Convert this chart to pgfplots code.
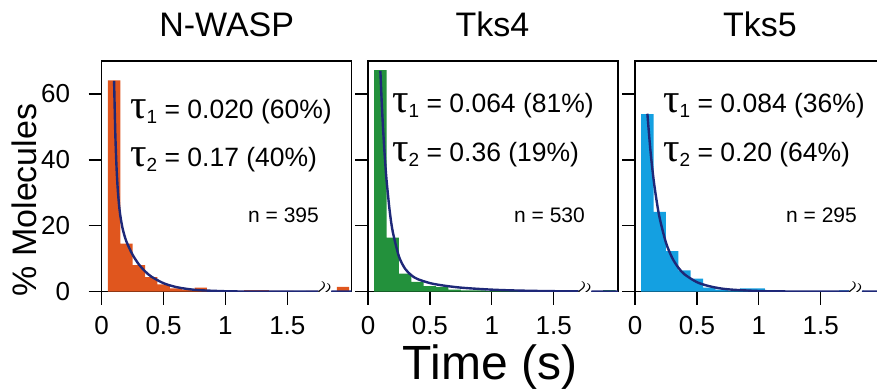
\documentclass[border=0pt]{standalone}
\usepackage{fontspec}
\setmainfont{Liberation Sans}
\newfontfamily\serifgreek{Liberation Serif}
\usepackage{pgfplots}
\pgfplotsset{compat=1.18}
\definecolor{cOr}{HTML}{E0561E}
\definecolor{cGr}{HTML}{23913C}
\definecolor{cBl}{HTML}{14A0E1}
\definecolor{cCv}{HTML}{1E2878}
\newcommand{\tauline}[3]{{\serifgreek\fontsize{41}{41}\selectfont τ}\raisebox{-4.5pt}{\fontsize{19}{19}\selectfont #1}{\fontsize{26.5}{26.5}\selectfont\ = #2 (#3\%)}}
\newcommand{\brk}{{\fontsize{28}{28}\selectfont$\approx$}}
\pgfplotsset{panel/.style={
  width=250pt, height=230.7pt, scale only axis, anchor=south west,
  xmin=0, xmax=2.02, ymin=0, ymax=70,
  xtick={0,0.5,1,1.5}, xticklabels={0,0.5,1,1.5},
  ytick={0,20,40,60},
  tick align=outside, xtick pos=left, ytick pos=left,
  major tick length=13pt,
  axis line style={line width=1.4pt},
  every tick/.style={line width=1.4pt, black},
  tick label style={font=\fontsize{26}{26}\selectfont},
  xticklabel style={yshift=-8pt},
  yticklabel style={xshift=-15pt},
  clip=true,
}}
\begin{document}
\begin{tikzpicture}
% ---------- N-WASP
\begin{axis}[panel, at={(101.7pt,98.3pt)}, yticklabels={0,20,40,60}]
\addplot[ybar, bar width=0.1, bar shift=0pt, fill=cOr, draw=none] coordinates {
(0.1,64.1) (0.2,14.6) (0.3,8.1) (0.4,4.4) (0.5,2.2) (0.6,1.0) (0.7,0.6) (0.8,1.2)
(0.9,0.5) (1.0,0.5) (1.1,0.25) (1.2,0.5) (1.3,0.5) (1.4,0.25) (1.5,0.25) (1.7,0.25) (1.95,1.5)};
\addplot[smooth, line width=2.4pt, cCv] coordinates {
(0.10,64.0) (0.11,47.9) (0.12,37.6) (0.13,30.9) (0.14,26.4) (0.15,23.2) (0.17,19.0)
(0.2,15.2) (0.25,11.2) (0.3,8.3) (0.35,6.2) (0.4,4.6) (0.5,2.57) (0.6,1.43) (0.7,0.79)
(0.8,0.44) (1.0,0.14) (1.2,0.04) (1.5,0.01) (2.02,0)};
\node[fill=white, inner sep=0pt, rotate=70] at (axis cs:1.8,0) {\brk};
\end{axis}
% ---------- Tks4
\begin{axis}[panel, at={(368pt,98.3pt)}, yticklabels={}]
\addplot[ybar, bar width=0.1, bar shift=0pt, fill=cGr, draw=none] coordinates {
(0.1,67.2) (0.2,16.4) (0.3,5.5) (0.4,3.0) (0.5,1.7) (0.6,1.4) (0.7,0.6) (0.8,0.4)
(0.9,0.4) (1.0,0.2) (1.1,0.7) (1.2,0.2) (1.3,0.2) (1.4,0.2) (1.5,0.2) (1.6,0.2) (1.7,0.2) (1.95,0.5)};
\addplot[smooth, line width=2.4pt, cCv] coordinates {
(0.10,67.0) (0.11,58.2) (0.12,50.7) (0.13,44.2) (0.14,38.6) (0.15,33.8) (0.175,24.6)
(0.2,18.2) (0.25,10.7) (0.3,6.95) (0.35,5.0) (0.4,3.84) (0.5,2.61) (0.6,1.92) (0.7,1.43)
(0.8,1.08) (1.0,0.62) (1.2,0.36) (1.5,0.155) (2.02,0.03)};
\node[fill=white, inner sep=0pt, rotate=70] at (axis cs:1.75,0) {\brk};
\end{axis}
% ---------- Tks5
\begin{axis}[panel, at={(635pt,98.3pt)}, yticklabels={}]
\addplot[ybar, bar width=0.1, bar shift=0pt, fill=cBl, draw=none] coordinates {
(0.1,53.9) (0.2,24.2) (0.3,12.3) (0.4,6.5) (0.5,4.0) (0.6,1.2) (0.7,0.6) (0.8,0.3)
(0.9,1.0) (1.0,1.0) (1.1,0.3) (1.2,0.2) (1.3,0.2) (1.4,0.2) (1.5,0.2) (1.6,0.2) (1.7,0.4) (1.8,0.3)};
\addplot[smooth, line width=2.4pt, cCv] coordinates {
(0.10,54.0) (0.125,42.7) (0.15,34.1) (0.175,27.5) (0.2,22.2) (0.25,14.9) (0.3,10.3)
(0.35,7.3) (0.4,5.27) (0.5,2.9) (0.6,1.67) (0.7,0.95) (0.8,0.58) (1.0,0.21) (1.2,0.08)
(1.5,0.02) (2.02,0)};
\node[fill=white, inner sep=0pt, rotate=70] at (axis cs:1.78,0) {\brk};
\end{axis}
% ---------- texts
\begin{scope}[x=1pt,y=1pt]
\node[anchor=base west, inner sep=0pt] at (130,271) {\tauline{1}{0.020}{60}};
\node[anchor=base west, inner sep=0pt] at (130,223) {\tauline{2}{0.17}{40}};
\node[anchor=base east, inner sep=0pt] at (319,167) {\fontsize{21}{21}\selectfont n = 395};
\node[anchor=base west, inner sep=0pt] at (392,277) {\tauline{1}{0.064}{81}};
\node[anchor=base west, inner sep=0pt] at (392,228) {\tauline{2}{0.36}{19}};
\node[anchor=base east, inner sep=0pt] at (585,167) {\fontsize{21}{21}\selectfont n = 530};
\node[anchor=base west, inner sep=0pt] at (663,277) {\tauline{1}{0.084}{36}};
\node[anchor=base west, inner sep=0pt] at (663,228) {\tauline{2}{0.20}{64}};
\node[anchor=base east, inner sep=0pt] at (857,167) {\fontsize{21}{21}\selectfont n = 295};
\node[anchor=base, inner sep=0pt] at (226.7,353) {\fontsize{34}{34}\selectfont N-WASP};
\node[anchor=base, inner sep=0pt] at (492.5,353) {\fontsize{34}{34}\selectfont Tks4};
\node[anchor=base, inner sep=0pt] at (760,353) {\fontsize{34}{34}\selectfont Tks5};
\node[anchor=base, inner sep=0pt] at (490,10) {\fontsize{48}{48}\selectfont Time (s)};
\node[rotate=90, anchor=base, inner sep=0pt] at (36,190) {\fontsize{34}{34}\selectfont \% Molecules};
\pgfresetboundingbox
\path[use as bounding box] (0,0) rectangle (877,390);
\end{scope}
\end{tikzpicture}
\end{document}
